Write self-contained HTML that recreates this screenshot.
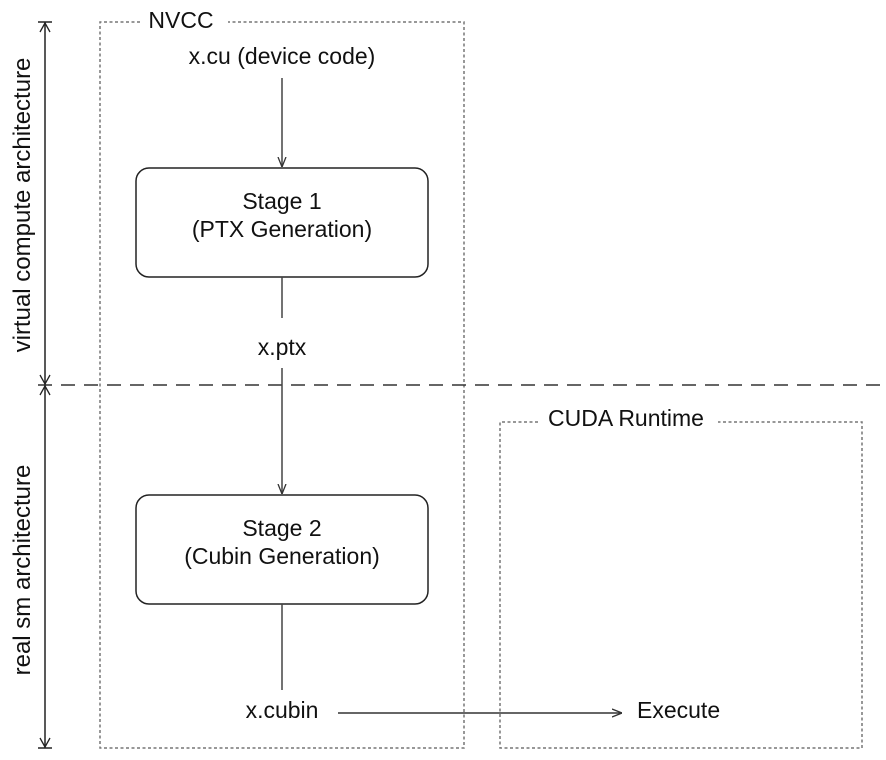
<!DOCTYPE html>
<html><head><meta charset="utf-8"><style>
html,body{margin:0;padding:0;background:#fff;}
svg{display:block;}
text{font-family:"Liberation Sans",Arial,sans-serif;fill:#111;}
</style></head><body>
<svg width="886" height="760" viewBox="0 0 886 760" xmlns="http://www.w3.org/2000/svg">
<defs>
<marker id="ah" viewBox="0 0 10 10" refX="10" refY="5" markerWidth="10" markerHeight="10" markerUnits="userSpaceOnUse" orient="auto">
<path d="M0,1 L10,5 L0,9" fill="none" stroke="#333" stroke-width="1.3"/>
</marker>
</defs>
<!-- NVCC box -->
<path d="M140,22 H100 V748 H464 V22 H228" fill="none" stroke="#777" stroke-width="1.5" stroke-dasharray="3,2.5"/>
<text x="181" y="28" font-size="23" text-anchor="middle">NVCC</text>
<!-- CUDA Runtime box -->
<path d="M538,422 H500 V748 H862 V422 H718" fill="none" stroke="#777" stroke-width="1.5" stroke-dasharray="3,2.5"/>
<text x="626" y="426" font-size="23" text-anchor="middle">CUDA Runtime</text>
<!-- horizontal dashed divider -->
<line x1="38" y1="385" x2="886" y2="385" stroke="#333" stroke-width="1.5" stroke-dasharray="14,9"/>
<!-- left dimension arrows -->
<line x1="45" y1="22" x2="45" y2="748" stroke="#222" stroke-width="1.5"/>
<line x1="38" y1="22" x2="52" y2="22" stroke="#222" stroke-width="1.5"/>
<line x1="38" y1="748" x2="52" y2="748" stroke="#222" stroke-width="1.5"/>
<path d="M40,32 L45,23 L50,32 M40,375 L45,384 L50,375 M40,395 L45,386 L50,395 M40,738 L45,747 L50,738" fill="none" stroke="#222" stroke-width="1.3"/>
<text transform="translate(30,205) rotate(-90)" font-size="24" text-anchor="middle">virtual compute architecture</text>
<text transform="translate(30,570) rotate(-90)" font-size="24" text-anchor="middle">real sm architecture</text>
<!-- flow -->
<text x="282" y="64" font-size="23" text-anchor="middle">x.cu (device code)</text>
<line x1="282" y1="78" x2="282" y2="167" stroke="#444" stroke-width="1.5" marker-end="url(#ah)"/>
<rect x="136" y="168" width="292" height="109" rx="13" fill="#fff" stroke="#222" stroke-width="1.5"/>
<text x="282" y="209" font-size="23" text-anchor="middle">Stage 1</text>
<text x="282" y="237" font-size="23" text-anchor="middle">(PTX Generation)</text>
<line x1="282" y1="277" x2="282" y2="318" stroke="#444" stroke-width="1.5"/>
<text x="282" y="355" font-size="23" text-anchor="middle">x.ptx</text>
<line x1="282" y1="368" x2="282" y2="494" stroke="#444" stroke-width="1.5" marker-end="url(#ah)"/>
<rect x="136" y="495" width="292" height="109" rx="13" fill="#fff" stroke="#222" stroke-width="1.5"/>
<text x="282" y="536" font-size="23" text-anchor="middle">Stage 2</text>
<text x="282" y="564" font-size="23" text-anchor="middle">(Cubin Generation)</text>
<line x1="282" y1="604" x2="282" y2="690" stroke="#444" stroke-width="1.5"/>
<text x="282" y="718" font-size="23" text-anchor="middle">x.cubin</text>
<line x1="338" y1="713" x2="622" y2="713" stroke="#333" stroke-width="1.5" marker-end="url(#ah)"/>
<text x="637" y="718" font-size="23">Execute</text>
</svg>
</body></html>
